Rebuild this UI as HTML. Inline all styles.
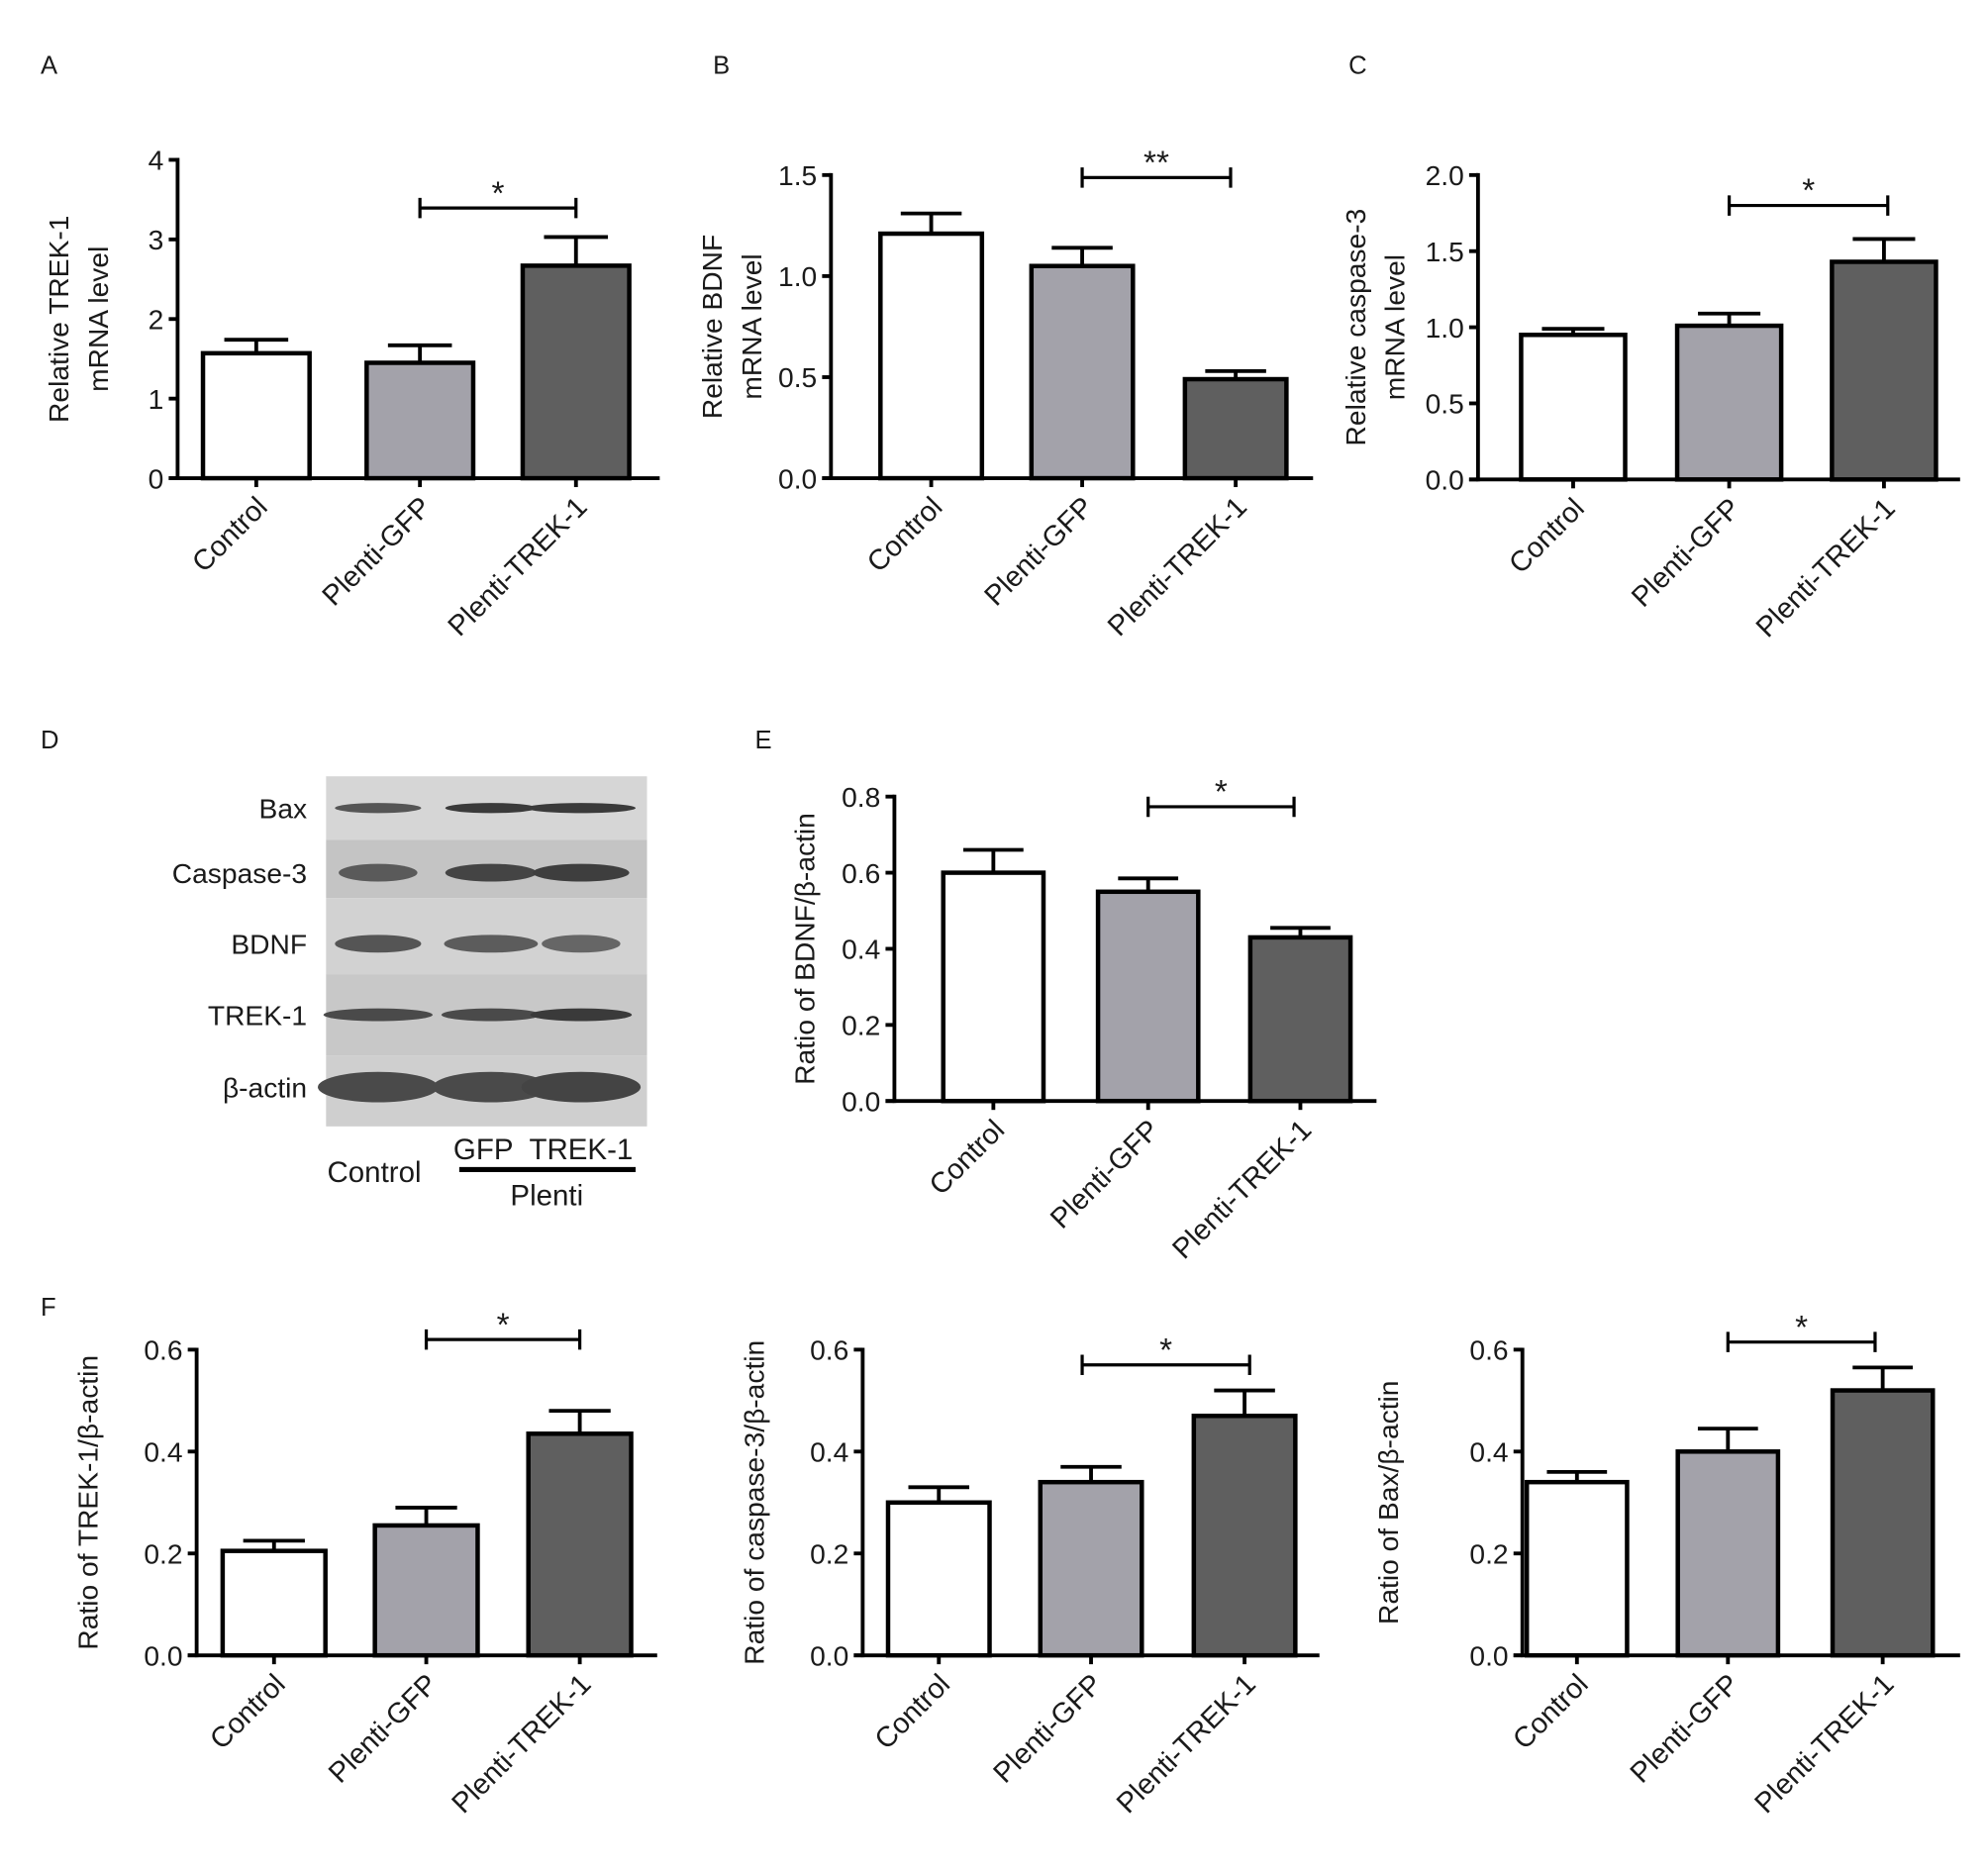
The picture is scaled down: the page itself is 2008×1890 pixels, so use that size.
<!DOCTYPE html>
<html><head><meta charset="utf-8"><style>
html,body{margin:0;padding:0;background:#fff}
svg{display:block}
text{font-family:"Liberation Sans",sans-serif;fill:#1a1a1a}
</style></head><body>
<svg id="fig" width="2008" height="1890" viewBox="0 0 1567 1475" preserveAspectRatio="none" xmlns="http://www.w3.org/2000/svg">
<g font-size="20">
<text x="32" y="58">A</text>
<text x="562" y="58">B</text>
<text x="1063" y="58">C</text>
<text x="32" y="590">D</text>
<text x="595" y="590">E</text>
<text x="32" y="1037">F</text>
</g>
<g id="blot"></g>
<g id="charts"></g>
</svg>
<script>
const NS="http://www.w3.org/2000/svg";
const categories=["Control","Plenti-GFP","Plenti-TREK-1"];
const fills=["#ffffff","#a3a2aa","#5f5f5f"];
const valuesA=[1.57,1.45,2.67], errorsA=[0.17,0.22,0.36], ticksA=["0","1","2","3","4"];
const valuesB=[1.21,1.05,0.49], errorsB=[0.10,0.09,0.04], ticksB=["0.0","0.5","1.0","1.5"];
const valuesC=[0.95,1.01,1.43], errorsC=[0.04,0.08,0.15], ticksC=["0.0","0.5","1.0","1.5","2.0"];
const valuesE=[0.60,0.55,0.43], errorsE=[0.06,0.035,0.025], ticksE=["0.0","0.2","0.4","0.6","0.8"];
const valuesF1=[0.205,0.255,0.435], errorsF1=[0.02,0.035,0.045], ticksF=["0.0","0.2","0.4","0.6"];
const valuesF2=[0.30,0.34,0.47], errorsF2=[0.03,0.03,0.05];
const valuesF3=[0.34,0.40,0.52], errorsF3=[0.02,0.045,0.045];

function el(tag,attrs,parent,txt){const e=document.createElementNS(NS,tag);for(const k in attrs)e.setAttribute(k,attrs[k]);if(txt!==undefined)e.textContent=txt;parent.appendChild(e);return e;}

function chart(cfg){
  const root=document.getElementById('charts');
  const g=el('g',{},root);
  
  
  const max=parseFloat(cfg.ticks[cfg.ticks.length-1]);
  const y=v=>cfg.y0-(v/max)*(cfg.y0-cfg.yTop);
  const x=i=>cfg.centers[i];
  const bw=cfg.bw;
  cfg.values.forEach((v,i)=>{
    const e=cfg.errors[i];
    const ln=el('line',{x1:x(i),x2:x(i),y1:y(v),y2:y(v+e),stroke:'#000','stroke-width':3},g);
    
    
    const cap=el('line',{x1:x(i)-bw*0.3,x2:x(i)+bw*0.3,y1:y(v+e),y2:y(v+e),stroke:'#000','stroke-width':3},g);
    
    
    const r=el('rect',{x:x(i)-bw/2,y:y(v),width:bw,height:cfg.y0-y(v),fill:fills[i],stroke:'#000','stroke-width':3.5},g);
    
    
  });
  const ya=el('line',{x1:cfg.ax,x2:cfg.ax,y1:cfg.yTop-1.5,y2:cfg.y0+1.5,stroke:'#000','stroke-width':3},g);
  
  
  const xa=el('line',{x1:cfg.ax-7,x2:cfg.xEnd,y1:cfg.y0,y2:cfg.y0,stroke:'#000','stroke-width':3},g);
  
  
  cfg.ticks.forEach(t=>{
    const v=parseFloat(t);
    const tk=el('line',{x1:cfg.ax-7,x2:cfg.ax,y1:y(v),y2:y(v),stroke:'#000','stroke-width':3},g);
    
    
    const tl=el('text',{x:cfg.ax-11,y:y(v)+8,'text-anchor':'end','font-size':22},g,t);
    
    
  });
  categories.forEach((c,i)=>{
    const tk=el('line',{x1:x(i),x2:x(i),y1:cfg.y0,y2:cfg.y0+7,stroke:'#000','stroke-width':3},g);
    
    
    const tl=el('text',{x:x(i)+10,y:cfg.y0+24,'text-anchor':'end','font-size':22.5,transform:`rotate(-45 ${x(i)+10} ${cfg.y0+24})`},g,c);
    
    
  });
  const lx=cfg.labelX, ly=(cfg.y0+cfg.yTop)/2;
  cfg.ylabel.forEach((s,k)=>{
    const t=el('text',{x:lx+k*31,y:ly,'text-anchor':'middle','font-size':22,transform:`rotate(-90 ${lx+k*31} ${ly})`},g,s);
    
    
  });
  const s=cfg.sig;
  const sl=el('path',{d:`M${s.x1} ${s.y-8}V${s.y+8}M${s.x1} ${s.y}H${s.x2}M${s.x2} ${s.y-8}V${s.y+8}`,stroke:'#000','stroke-width':2.5,fill:'none'},g);
  
  
  const st=el('text',{x:(s.x1+s.x2)/2,y:s.y-3,'text-anchor':'middle','font-size':26},g,s.txt);
  
  
}

chart({name:'chart-a',values:valuesA,errors:errorsA,ticks:ticksA,ax:140,y0:377,yTop:126,xEnd:520,centers:[202,331,454],bw:84,labelX:54,ylabel:['Relative TREK-1','mRNA level'],sig:{x1:331,x2:454,y:164,txt:'*'}});
chart({name:'chart-b',values:valuesB,errors:errorsB,ticks:ticksB,ax:655,y0:377,yTop:138,xEnd:1035,centers:[734,853,974],bw:80,labelX:569,ylabel:['Relative BDNF','mRNA level'],sig:{x1:853,x2:970,y:140,txt:'**'}});
chart({name:'chart-c',values:valuesC,errors:errorsC,ticks:ticksC,ax:1165,y0:378,yTop:138,xEnd:1545,centers:[1240,1363,1485],bw:82,labelX:1076,ylabel:['Relative caspase-3','mRNA level'],sig:{x1:1363,x2:1488,y:162,txt:'*'}});
chart({name:'chart-e',values:valuesE,errors:errorsE,ticks:ticksE,ax:705,y0:868,yTop:628,xEnd:1085,centers:[783,905,1025],bw:79,labelX:642,ylabel:['Ratio of BDNF/β-actin'],sig:{x1:905,x2:1020,y:636,txt:'*'}});
chart({name:'chart-f-trek1',values:valuesF1,errors:errorsF1,ticks:ticksF,ax:155,y0:1305,yTop:1064,xEnd:518,centers:[216,336,457],bw:81,labelX:77,ylabel:['Ratio of TREK-1/β-actin'],sig:{x1:336,x2:457,y:1056,txt:'*'}});
chart({name:'chart-f-caspase3',values:valuesF2,errors:errorsF2,ticks:ticksF,ax:680,y0:1305,yTop:1064,xEnd:1040,centers:[740,860,981],bw:80,labelX:602,ylabel:['Ratio of caspase-3/β-actin'],sig:{x1:853,x2:985,y:1076,txt:'*'}});
chart({name:'chart-f-bax',values:valuesF3,errors:errorsF3,ticks:ticksF,ax:1200,y0:1305,yTop:1064,xEnd:1545,centers:[1243,1362,1484],bw:79,labelX:1102,ylabel:['Ratio of Bax/β-actin'],sig:{x1:1362,x2:1478,y:1058,txt:'*'}});

(function(){
  const g=document.getElementById('blot');
  const rows=["Bax","Caspase-3","BDNF","TREK-1","β-actin"];
  const rowTop=[612,662,708,768,832,888];
  const rowBg=["#d6d6d6","#c4c4c4","#d2d2d2","#c8c8c8","#cfcfcf"];
  const bandY=[637,688,744,800,857];
  const bandH=[8,14,14,10,24];
  const laneX=[298,387,458];
  const bandW=[[68,72,86],[62,72,76],[68,74,62],[86,78,80],[95,92,94]];
  const bandC=[["#555","#3a3a3a","#3a3a3a"],["#5a5a5a","#444","#3e3e3e"],["#555","#5c5c5c","#666"],["#4a4a4a","#4a4a4a","#3a3a3a"],["#4a4a4a","#4a4a4a","#444"]];
  rows.forEach((r,i)=>{
    const bg=el('rect',{x:257,y:rowTop[i],width:253,height:rowTop[i+1]-rowTop[i],fill:rowBg[i]},g);
    
    
    laneX.forEach((lx,j)=>{
      const b=el('ellipse',{cx:lx,cy:bandY[i],rx:bandW[i][j]/2,ry:bandH[i]/2,fill:bandC[i][j]},g);
      
      
    });
    const t=el('text',{x:242,y:bandY[i]+8,'text-anchor':'end','font-size':22},g,r);
    
    
  });
  const labs=[["Control",295,932],["GFP",381,914],["TREK-1",458,914],["Plenti",431,950]];
  labs.forEach(l=>{
    const t=el('text',{x:l[1],y:l[2],'text-anchor':'middle','font-size':23},g,l[0]);
    
    
  });
  const ln=el('line',{x1:362,x2:501,y1:922,y2:922,stroke:'#000','stroke-width':4},g);
  
  
})();
</script>
</body></html>
